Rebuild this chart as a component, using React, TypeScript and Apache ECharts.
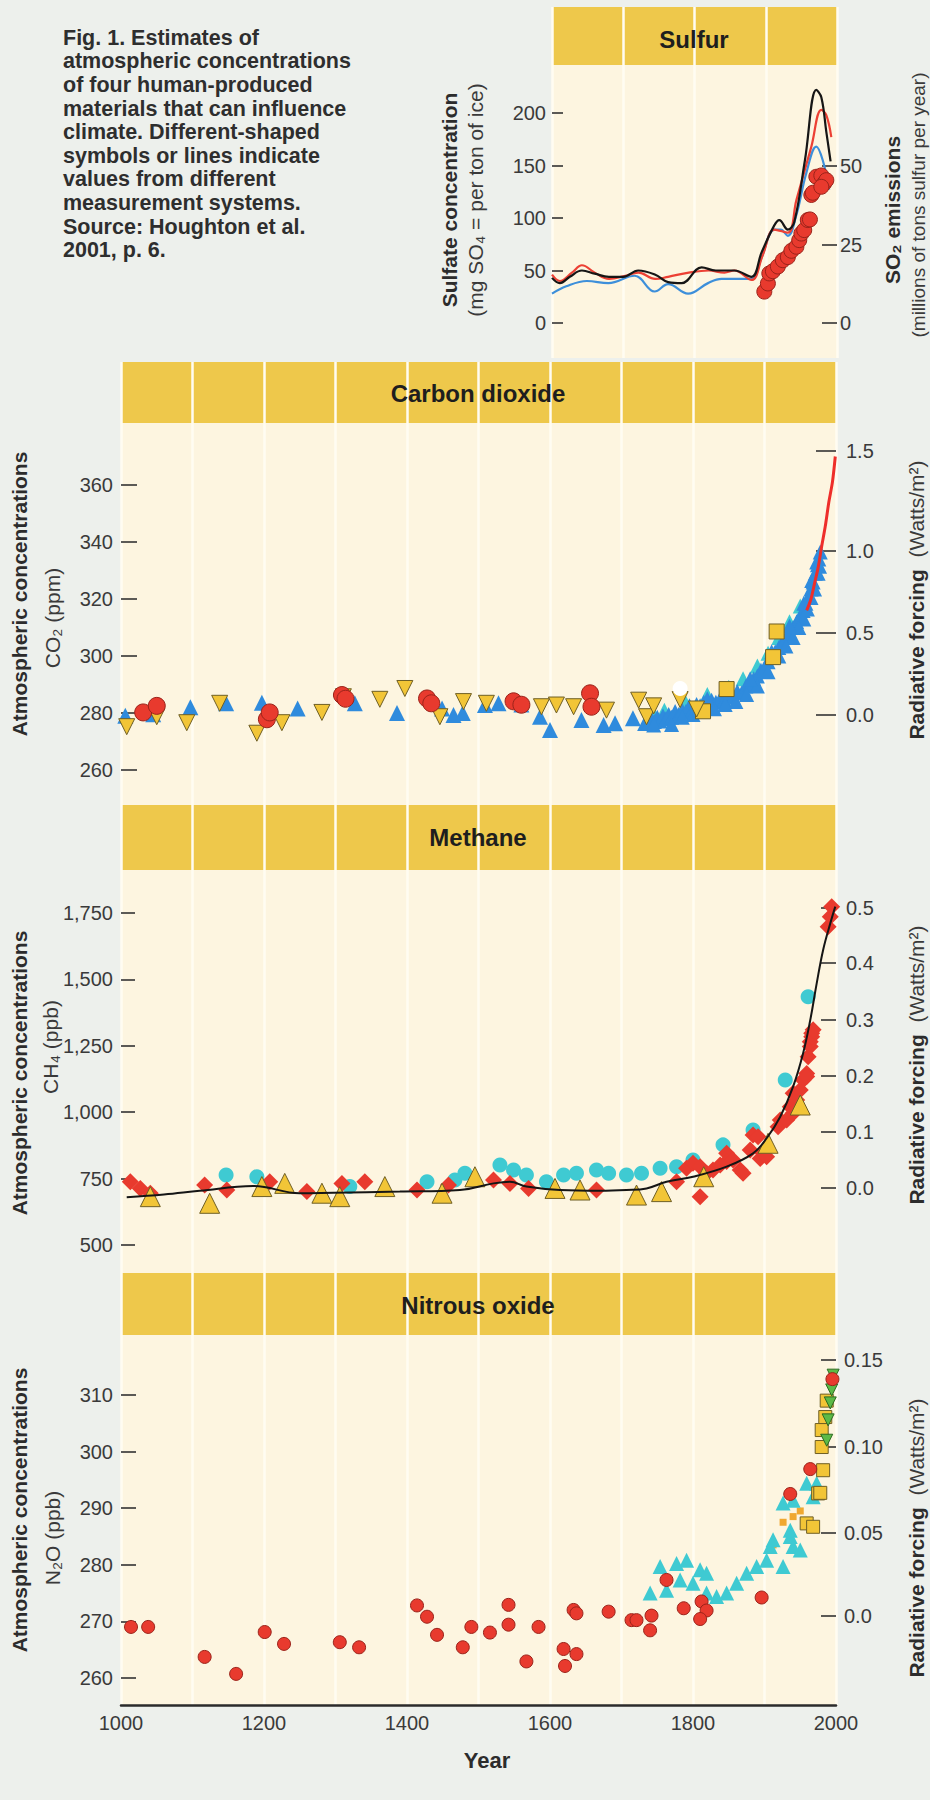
import React, { useEffect, useRef } from 'react';
import * as echarts from 'echarts';

const FONT = '"Liberation Sans", Arial, Helvetica, sans-serif';
const HEADER = '#EEC84B';
const PLOT = '#FDF5E0';
const PAGE = '#EDF0EC';
const INK = '#2c2c2c';
const TICK_INK = '#3a3a3a';

// ---------- Caption ----------
const captionLines = [
  'Fig. 1. Estimates of',
  'atmospheric concentrations',
  'of four human-produced',
  'materials that can influence',
  'climate. Different-shaped',
  'symbols or lines indicate',
  'values from different',
  'measurement systems.',
  'Source: Houghton et al.',
  '2001, p. 6.',
];

// ---------- Axis ticks ----------
const yearLabels = [1000, 1200, 1400, 1600, 1800, 2000];
const sulfurTicks = [0, 50, 100, 150, 200];
const so2Ticks = [0, 25, 50];
const co2Ticks = [260, 280, 300, 320, 340, 360];
const co2ForcingLabels = ['0.0', '0.5', '1.0', '1.5'];
const co2ForcingAt = [279.3, 308, 336.8, 372]; // ppm positions of forcing ticks
const ch4Ticks = [500, 750, 1000, 1250, 1500, 1750];
const ch4ForcingLabels = ['0.0', '0.1', '0.2', '0.3', '0.4', '0.5'];
const ch4ForcingAt = [714.6, 925.5, 1136.3, 1347.1, 1561.7, 1768.8]; // ppb
const n2oTicks = [260, 270, 280, 290, 300, 310];
const n2oForcingLabels = ['0.0', '0.05', '0.10', '0.15'];
const n2oForcingAt = [271, 285.6, 300.8, 316.2]; // ppb

// ---------- Sulfur ----------
const sulfurBlack: number[][] = [
  [1600, 43], [1611, 38], [1625, 44], [1642, 50], [1660, 47], [1680, 44], [1700, 44],
  [1721, 50], [1745, 46], [1763, 39], [1782, 38], [1810, 53], [1830, 50], [1856, 50],
  [1880, 44], [1894, 67], [1912, 93], [1919, 98], [1931, 89], [1940, 96], [1955, 155],
  [1971, 222], [1978, 215], [1985, 182], [1991, 154],
];
const sulfurRed: number[][] = [
  [1600, 46], [1611, 40], [1628, 48], [1642, 55], [1660, 48], [1680, 42], [1703, 45],
  [1721, 48], [1745, 42], [1763, 44], [1792, 48], [1820, 50], [1842, 48], [1856, 50],
  [1880, 41], [1896, 65], [1912, 89], [1931, 86], [1943, 117], [1964, 168], [1978, 203],
  [1985, 198], [1992, 177],
];
const sulfurBlue: number[][] = [
  [1600, 28], [1620, 35], [1649, 40], [1679, 38], [1716, 45], [1744, 30], [1763, 37],
  [1791, 28], [1819, 38], [1838, 42], [1856, 42], [1880, 42], [1894, 62], [1912, 89],
  [1921, 89], [1931, 83], [1943, 103], [1957, 143], [1971, 168], [1980, 155], [1989, 127],
];
const so2Emissions: number[][] = [
  [1898, 10], [1903, 12.6], [1905, 15.8], [1910, 16.5], [1917, 18], [1924, 20], [1931, 21],
  [1936, 23], [1943, 24.3], [1947, 26.4], [1950, 28.5], [1954, 29.6], [1959, 32.8], [1962, 33],
  [1964, 40.8], [1966, 41.5], [1971, 46.6], [1978, 47], [1982, 44.5], [1985, 45.5], [1978, 43.4],
];

// ---------- Carbon dioxide ----------
const co2RedCircles: number[][] = [
  [1031, 280.2], [1050, 282.5], [1204, 277.8], [1208, 280.2], [1309, 286.3], [1314, 285],
  [1428, 285.1], [1434, 283.4], [1549, 284.1], [1560, 282.9], [1656, 286.9], [1658, 282.2],
];
const co2BlueEarly: number[][] = [
  [1006, 279], [1045, 279.6], [1097, 282], [1147, 283.4], [1197, 283.6], [1247, 281.6],
  [1327, 283.4], [1386, 280], [1449, 281.6], [1465, 279.3], [1478, 280], [1509, 282.8],
  [1528, 283.4], [1560, 283], [1586, 278.7], [1600, 274], [1644, 277.5], [1675, 275.8],
  [1691, 276.4], [1716, 278.2], [1733, 276.5],
];
const co2BlueDense: number[][] = [
  [1738, 276.5], [1742, 278], [1746, 277], [1750, 278.5], [1754, 277.2], [1758, 279], [1762, 278],
  [1766, 279.5], [1770, 278.5], [1775, 280.5], [1780, 279.5], [1785, 281], [1790, 280.5],
  [1795, 282.5], [1800, 281.5], [1805, 283], [1810, 282.5], [1815, 283.8], [1820, 282.8],
  [1826, 284.5], [1832, 283.8], [1838, 285], [1844, 284.5], [1850, 286], [1856, 285.5],
  [1862, 287.5], [1868, 287], [1874, 289.5], [1880, 290], [1885, 292], [1890, 293], [1895, 295],
  [1900, 296], [1905, 298], [1910, 299.5], [1915, 301.5], [1920, 303], [1925, 305], [1930, 306.5],
  [1935, 308.5], [1940, 310], [1945, 312], [1950, 314], [1954, 316], [1958, 318.5], [1962, 321],
  [1965, 323.5], [1968, 326], [1971, 329], [1974, 332], [1976, 334], [1978, 336.5],
  [1745, 275.8], [1770, 276], [1800, 279.5], [1830, 281.5], [1860, 284], [1890, 289.5],
  [1920, 300], [1940, 306.5], [1955, 313], [1965, 320.5], [1975, 329],
  [1785, 278.5], [1815, 281], [1845, 283], [1875, 286.5], [1905, 294.5], [1930, 303.5],
  [1948, 310], [1960, 316.5], [1970, 323.5], [1977, 331.5],
  [1820, 285], [1850, 287.5], [1880, 292], [1910, 301.5], [1935, 310.5], [1955, 318.5],
  [1966, 326.5], [1973, 333],
];
const co2Cyan: number[][] = [
  [1745, 279.5], [1760, 281], [1790, 283.5], [1820, 286.5], [1850, 289], [1870, 292],
  [1890, 296.5], [1905, 301], [1920, 306.5], [1935, 312], [1950, 317.5],
];
const co2YellowDown: number[][] = [
  [1008, 275.2], [1050, 278.7], [1092, 276.6], [1138, 283.4], [1190, 272.9], [1225, 276.6],
  [1281, 280.2], [1311, 285.7], [1362, 284.8], [1397, 288.6], [1446, 278.7], [1479, 284],
  [1511, 283.4], [1588, 282.2], [1609, 282.8], [1633, 282.2], [1679, 281], [1724, 284.5],
  [1735, 278.7], [1745, 282.5], [1782, 284.7], [1805, 281.4],
];
const co2Squares: number[][] = [[1814, 280.6], [1847, 288.4], [1912, 299.6], [1917, 308.6]];
const co2OpenCircle: number[][] = [[1782, 288.6]];
const co2MaunaLoa: number[][] = [
  [1959, 316], [1965, 320], [1970, 325.5], [1975, 331], [1980, 338.5], [1985, 345.5],
  [1990, 354], [1995, 361], [1999, 370],
];

// ---------- Methane ----------
const ch4RedDiamonds: number[][] = [
  [1013, 738], [1027, 713], [1041, 695], [1117, 726], [1148, 707], [1208, 738], [1260, 701],
  [1309, 732], [1341, 738], [1414, 707], [1458, 726], [1521, 745], [1544, 732], [1570, 713],
  [1665, 707], [1777, 738], [1791, 789], [1800, 808], [1810, 795], [1810, 682], [1819, 770],
  [1828, 782], [1838, 801], [1847, 845], [1847, 814], [1856, 820], [1866, 782], [1870, 770],
  [1880, 858], [1884, 914], [1891, 908], [1894, 826], [1898, 845], [1903, 832], [1919, 945],
  [1922, 971], [1931, 971], [1936, 1021], [1940, 996], [1940, 1071], [1945, 1046], [1950, 1084],
  [1954, 1121], [1959, 1146], [1959, 1134], [1961, 1209], [1964, 1247], [1964, 1265],
  [1966, 1284], [1966, 1297], [1968, 1310], [1989, 1698], [1992, 1736], [1994, 1774],
];
const ch4Cyan: number[][] = [
  [1147, 764], [1190, 757], [1320, 720], [1428, 738], [1467, 745], [1481, 770], [1530, 801],
  [1549, 782], [1567, 764], [1595, 738], [1619, 764], [1637, 770], [1665, 782], [1682, 770],
  [1707, 764], [1728, 770], [1754, 789], [1777, 795], [1800, 820], [1842, 877], [1884, 933],
  [1929, 1121], [1961, 1435],
];
const ch4Yellow: number[][] = [
  [1041, 682], [1124, 657], [1197, 720], [1229, 732], [1281, 695], [1306, 682], [1369, 720],
  [1449, 695], [1495, 757], [1607, 713], [1642, 707], [1721, 688], [1756, 701], [1815, 757],
  [1905, 883], [1950, 1027],
];
const ch4Fit: number[][] = [
  [1008, 680], [1060, 690], [1110, 704], [1185, 722], [1250, 695], [1297, 697], [1390, 701],
  [1474, 707], [1521, 732], [1544, 738], [1567, 720], [1614, 707], [1670, 704], [1707, 707],
  [1735, 713], [1763, 738], [1800, 757], [1847, 795], [1884, 845], [1903, 902], [1922, 983],
  [1940, 1096], [1954, 1222], [1964, 1347], [1973, 1485], [1982, 1611], [1992, 1711], [1999, 1774],
];

// ---------- Nitrous oxide ----------
const n2oRed: number[][] = [
  [1014, 269], [1038, 269], [1117, 263.7], [1161, 260.7], [1201, 268.1], [1228, 266],
  [1306, 266.3], [1333, 265.4], [1414, 272.8], [1428, 270.8], [1442, 267.6], [1478, 265.4],
  [1490, 269], [1516, 268], [1542, 272.9], [1542, 269.4], [1567, 262.9], [1584, 269],
  [1619, 265.1], [1621, 262.1], [1637, 264.2], [1633, 272], [1637, 271.4], [1682, 271.7],
  [1714, 270.2], [1721, 270.2], [1742, 271], [1740, 268.4], [1763, 277.3], [1787, 272.3],
  [1812, 273.5], [1819, 271.9], [1810, 270.4], [1896, 274.2], [1936, 292.5], [1964, 296.9],
  [1995, 312.8],
];
const n2oCyan: number[][] = [
  [1740, 275], [1754, 279.7], [1763, 275.5], [1777, 280.2], [1782, 277.3], [1791, 280.8],
  [1800, 276.7], [1810, 279.1], [1819, 278.5], [1819, 275], [1833, 274.4], [1847, 275],
  [1861, 276.7], [1875, 278.5], [1889, 279.7], [1903, 280.8], [1908, 283.2], [1912, 284.4],
  [1926, 279.7], [1936, 285], [1936, 286.1], [1940, 283.2], [1950, 282.6], [1926, 290.9],
  [1940, 291.4], [1959, 294.4], [1968, 292], [1973, 294.4],
];
const n2oSquares: number[][] = [
  [1959, 287.3], [1968, 286.7], [1975, 292.6], [1978, 292.7], [1982, 296.7], [1980, 300.8],
  [1980, 303.8], [1985, 306.1], [1987, 309],
];
const n2oSmallSquares: number[][] = [[1912, 283.5], [1926, 287.5], [1940, 288.5], [1950, 289.5]];
const n2oGreen: number[][] = [[1987, 302], [1989, 305.6], [1992, 308.6], [1994, 310.9], [1996, 313.5]];

// ---------- helpers ----------
const commas = (v: number) => String(v).replace(/\B(?=(\d{3})+(?!\d))/g, ',');
const lookup = (labels: string[], at: number[]) => (v: number) => {
  for (let i = 0; i < at.length; i++) if (Math.abs(at[i] - v) < 1e-6) return labels[i];
  return '';
};

function buildOption() {
  const gridDefs = [
    { left: 552, top: 7, width: 285, height: 58, bg: HEADER },
    { left: 552, top: 65, width: 285, height: 293, bg: PLOT },
    { left: 121, top: 362, width: 715, height: 61, bg: HEADER },
    { left: 121, top: 423, width: 715, height: 382, bg: PLOT },
    { left: 121, top: 805, width: 715, height: 65, bg: HEADER },
    { left: 121, top: 870, width: 715, height: 403, bg: PLOT },
    { left: 121, top: 1273, width: 715, height: 62, bg: HEADER },
    { left: 121, top: 1335, width: 715, height: 370, bg: PLOT },
  ];
  const grid = gridDefs.map((g) => ({
    left: g.left, top: g.top, width: g.width, height: g.height,
    show: true, backgroundColor: g.bg, borderWidth: 0, containLabel: false,
  }));
  const xAxis = gridDefs.map((_, i) => ({
    type: 'value', gridIndex: i, min: i < 2 ? 1600 : 1000, max: 2000, interval: 100,
    splitLine: { show: true, lineStyle: { color: '#FFFCF2', width: 2.5 } },
    axisLine: { show: i === 7, onZero: false, lineStyle: { color: '#2b2b2b', width: 2.5 } },
    axisTick: { show: false },
    axisLabel: {
      show: i === 7, fontSize: 20, color: TICK_INK, fontFamily: FONT, margin: 8,
      formatter: (v: number) => (yearLabels.indexOf(v) >= 0 ? String(v) : ''),
    },
  }));
  const tickStyle = { color: '#333', width: 1.6 };
  const leftAxis = (gridIndex: number, min: number, max: number, ticks: number[], len: number, margin: number, fmt?: (v: number) => string) => ({
    type: 'value', gridIndex, position: 'left', min, max,
    splitLine: { show: false }, axisLine: { show: false },
    axisTick: { show: true, inside: true, length: len, lineStyle: tickStyle, customValues: ticks },
    axisLabel: { customValues: ticks, fontSize: 20, color: TICK_INK, fontFamily: FONT, margin, formatter: fmt || ((v: number) => String(v)) },
  });
  const rightAxis = (gridIndex: number, min: number, max: number, ticks: number[], fmt: (v: number) => string, len: number, margin: number) => ({
    type: 'value', gridIndex, position: 'right', min, max,
    splitLine: { show: false }, axisLine: { show: false },
    axisTick: { show: true, inside: true, length: len, lineStyle: tickStyle, customValues: ticks },
    axisLabel: { customValues: ticks, fontSize: 20, color: TICK_INK, fontFamily: FONT, margin, formatter: fmt },
  });
  const headerAxis = (gridIndex: number) => ({ type: 'value', gridIndex, min: 0, max: 1, show: false });

  const yAxis = [
    headerAxis(0),
    leftAxis(1, -33.3, 245.7, sulfurTicks, 11, 6),
    rightAxis(1, -11.15, 82.2, so2Ticks, (v: number) => String(v), 15, 3),
    headerAxis(2),
    leftAxis(3, 247.72, 381.75, co2Ticks, 16, 8),
    rightAxis(3, 247.72, 381.75, co2ForcingAt, lookup(co2ForcingLabels, co2ForcingAt), 20, 10),
    headerAxis(4),
    leftAxis(5, 394.6, 1911.9, ch4Ticks, 14, 8, commas),
    rightAxis(5, 394.6, 1911.9, ch4ForcingAt, lookup(ch4ForcingLabels, ch4ForcingAt), 15, 10),
    headerAxis(6),
    leftAxis(7, 255.2, 320.6, n2oTicks, 15, 8),
    rightAxis(7, 255.2, 320.6, n2oForcingAt, lookup(n2oForcingLabels, n2oForcingAt), 15, 8),
  ];

  const RED = '#E83A2E', RED_B = '#9a231a';
  const BLUE = '#2F8BDD';
  const YEL = '#F2C537', YEL_B = '#6f5f25';
  const CYAN = '#3FCAD2';
  const GREEN = '#5DBA47', GREEN_B = '#2c6b22';

  const sc = (x: number, y: number, data: number[][], symbol: string, size: number, color: string, border?: string, rotate?: number, z = 2) => ({
    type: 'scatter', xAxisIndex: x, yAxisIndex: y, data, symbol, symbolSize: size,
    symbolRotate: rotate || 0, z, silent: true,
    itemStyle: { color, borderColor: border || color, borderWidth: border ? 1 : 0, opacity: 1 },
  });
  const ln = (x: number, y: number, data: number[][], color: string, width: number, smooth: number, z = 3) => ({
    type: 'line', xAxisIndex: x, yAxisIndex: y, data, symbol: 'none', smooth, z, silent: true,
    lineStyle: { color, width },
  });

  const series: any[] = [
    // sulfur
    ln(1, 1, sulfurBlue, '#3D8FDA', 2.2, 0.4),
    ln(1, 1, sulfurRed, '#EC4034', 2.2, 0.4),
    ln(1, 1, sulfurBlack, '#161616', 2.2, 0.4),
    sc(1, 2, so2Emissions, 'circle', 15, RED, RED_B, 0, 4),
    // carbon dioxide
    sc(3, 4, co2Cyan, 'triangle', 15, CYAN),
    sc(3, 4, co2BlueEarly, 'triangle', 16, BLUE),
    sc(3, 4, co2BlueDense, 'triangle', 15, BLUE),
    sc(3, 4, co2Squares, 'rect', 15, YEL, YEL_B),
    sc(3, 4, co2YellowDown, 'triangle', 16, YEL, YEL_B, 180),
    sc(3, 4, co2RedCircles, 'circle', 17, RED, RED_B),
    sc(3, 4, co2OpenCircle, 'emptyCircle', 15, 'rgba(0,0,0,0)', '#3a3a3a'),
    ln(3, 4, co2MaunaLoa, '#EE2E2A', 3, 0.3, 5),
    // methane
    sc(5, 7, ch4Cyan, 'circle', 15, CYAN),
    sc(5, 7, ch4RedDiamonds, 'diamond', 17, RED),
    sc(5, 7, ch4Yellow, 'triangle', 20, YEL, YEL_B),
    ln(5, 7, ch4Fit, '#151515', 2, 0.4, 5),
    // nitrous oxide
    sc(7, 10, n2oSmallSquares, 'rect', 7, '#F0A830'),
    sc(7, 10, n2oCyan, 'triangle', 15, CYAN),
    sc(7, 10, n2oSquares, 'rect', 13, YEL, YEL_B),
    sc(7, 10, n2oGreen, 'triangle', 12, GREEN, GREEN_B, 180),
    sc(7, 10, n2oRed, 'circle', 13, RED, RED_B, 0, 4),
  ];

  const headerTitle = (text: string, x: number, y: number) => ({
    type: 'text', x, y, z: 100,
    style: { text, fill: '#1e1e1e', font: `bold 24px ${FONT}`, align: 'center', verticalAlign: 'middle' },
  });
  const vtext = (x: number, y: number, text: string, rich: any, fontSize = 21) => ({
    type: 'text', x, y, rotation: Math.PI / 2, z: 100,
    style: { text, rich, fill: INK, fontSize, fontFamily: FONT, align: 'center', verticalAlign: 'middle' },
  });
  const B = { fontWeight: 'bold', fontSize: 21, fontFamily: FONT, fill: INK };
  const N = { fontWeight: 'normal', fontSize: 21, fontFamily: FONT, fill: '#3a3a3a' };
  const NS = { fontWeight: 'normal', fontSize: 19, fontFamily: FONT, fill: '#3a3a3a' };
  const richBN = { b: B, n: N, s: NS };

  const graphic = [
    {
      type: 'text', x: 63, y: 26, z: 100,
      style: { text: captionLines.join('\n'), fill: '#2e2e2e', font: `bold 21.5px ${FONT}`, lineHeight: 23.6, align: 'left', verticalAlign: 'top' },
    },
    headerTitle('Sulfur', 694, 39),
    headerTitle('Carbon dioxide', 478, 393),
    headerTitle('Methane', 478, 837),
    headerTitle('Nitrous oxide', 478, 1305),
    vtext(449, 200, '{b|Sulfate concentration}', richBN),
    vtext(475, 200, '{n|(mg SO₄ = per ton of ice)}', richBN),
    vtext(892, 210, '{b|SO₂ emissions}', richBN),
    vtext(918, 205, '{s|(millions of tons sulfur per year)}', richBN),
    vtext(19, 594, '{b|Atmospheric concentrations}', richBN),
    vtext(52, 618, '{n|CO₂ (ppm)}', richBN),
    vtext(916, 600, '{b|Radiative forcing}  {n|(Watts/m²)}', richBN),
    vtext(19, 1073, '{b|Atmospheric concentrations}', richBN),
    vtext(50, 1047, '{n|CH₄ (ppb)}', richBN),
    vtext(916, 1065, '{b|Radiative forcing}  {n|(Watts/m²)}', richBN),
    vtext(19, 1510, '{b|Atmospheric concentrations}', richBN),
    vtext(52, 1538, '{n|N₂O (ppb)}', richBN),
    vtext(916, 1538, '{b|Radiative forcing}  {n|(Watts/m²)}', richBN),
    {
      type: 'text', x: 487, y: 1760, z: 100,
      style: { text: 'Year', fill: INK, font: `bold 22px ${FONT}`, align: 'center', verticalAlign: 'middle' },
    },
  ];

  return {
    animation: false,
    backgroundColor: PAGE,
    textStyle: { fontFamily: FONT },
    grid, xAxis, yAxis, series, graphic,
  };
}

export default function App() {
  const ref = useRef<HTMLDivElement>(null);
  useEffect(() => {
    if (!ref.current) return;
    const chart = echarts.init(ref.current, null, { renderer: 'svg' });
    chart.setOption(buildOption() as any);
    return () => chart.dispose();
  }, []);
  return (
    <div
      ref={ref}
      style={{ position: 'absolute', left: 0, top: 0, width: 930, height: 1800, background: PAGE }}
    />
  );
}
